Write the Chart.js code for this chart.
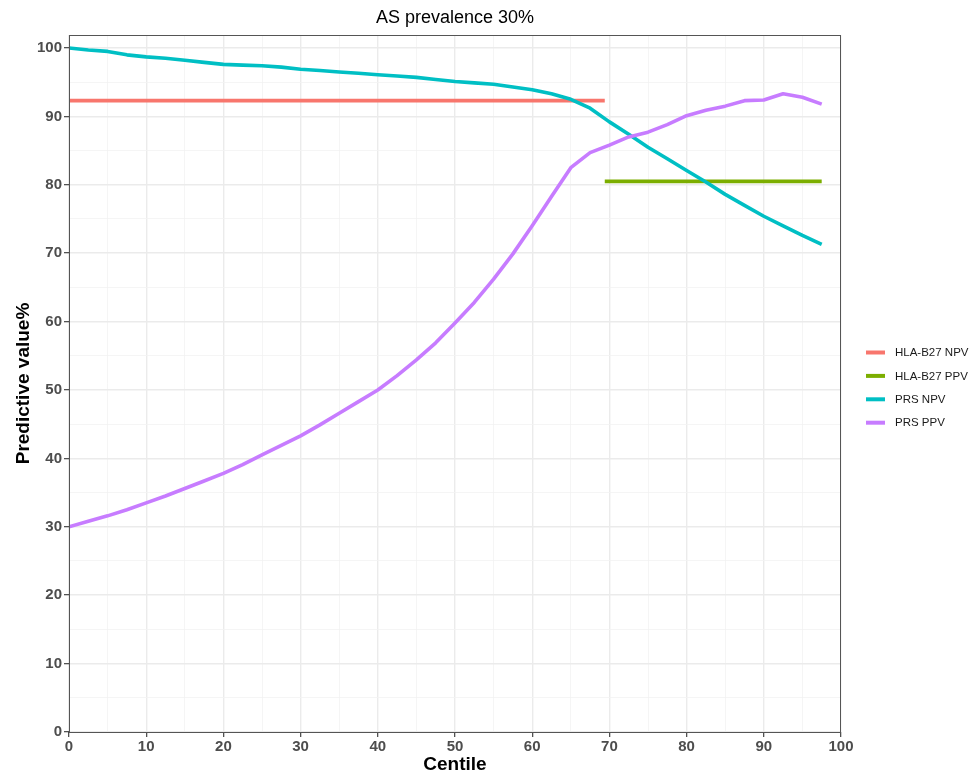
<!DOCTYPE html>
<html>
<head>
<meta charset="utf-8">
<title>AS prevalence 30%</title>
<script src="https://cdn.jsdelivr.net/npm/chart.js@4/dist/chart.umd.min.js"></script>
<style>
  html, body { margin: 0; padding: 0; background: #fff; }
  #wrap { width: 970px; height: 773px; }
</style>
</head>
<body>
<div id="wrap"><canvas id="predChart" width="970" height="773"></canvas></div>
<script>
// centiles where the PRS curves were evaluated
const centiles = [0, 2.5, 5, 7.5, 10, 12.5, 15, 17.5, 20, 22.5, 25, 27.5, 30, 32.5, 35, 37.5,
  40, 42.5, 45, 47.5, 50, 52.5, 55, 57.5, 60, 62.5, 65, 67.5, 70, 72.5, 75, 77.5,
  80, 82.5, 85, 87.5, 90, 92.5, 95, 97.5];

const prsNpv = [100.0, 99.7, 99.5, 99.0, 98.7, 98.5, 98.2, 97.9, 97.6, 97.5, 97.4, 97.2, 96.9, 96.7, 96.5, 96.3,
  96.1, 95.9, 95.7, 95.4, 95.1, 94.9, 94.7, 94.3, 93.9, 93.3, 92.5, 91.2, 89.2, 87.4, 85.5, 83.8,
  82.1, 80.4, 78.6, 77.0, 75.4, 74.0, 72.6, 71.3];

const prsPpv = [30.0, 30.8, 31.6, 32.5, 33.5, 34.5, 35.6, 36.7, 37.8, 39.1, 40.5, 41.9, 43.3, 44.9, 46.6, 48.3,
  50.0, 52.1, 54.4, 56.9, 59.8, 62.8, 66.2, 69.9, 74.0, 78.3, 82.5, 84.7, 85.8, 87.0, 87.7, 88.8,
  90.1, 90.9, 91.5, 92.3, 92.4, 93.3, 92.8, 91.8];

// HLA-B27 is a single value, drawn flat over its centile range
const hlaNpvX = [0, 69.4];
const hlaNpvY = [92.3, 92.3];
const hlaPpvX = [69.4, 97.5];
const hlaPpvY = [80.5, 80.5];

const seriesNames = ["HLA-B27 NPV", "HLA-B27 PPV", "PRS NPV", "PRS PPV"];
const seriesColors = ["#F8766D", "#7CAE00", "#00BFC4", "#C77CFF"];

const tickValues = [0, 5, 10, 15, 20, 25, 30, 35, 40, 45, 50, 55, 60, 65, 70, 75, 80, 85, 90, 95, 100];

const FONT = "'Liberation Sans', Arial, Helvetica, sans-serif";

function toPoints(xs, ys) {
  return xs.map((x, i) => ({ x: x, y: ys[i] }));
}

const seriesPoints = [
  toPoints(hlaNpvX, hlaNpvY),
  toPoints(hlaPpvX, hlaPpvY),
  toPoints(centiles, prsNpv),
  toPoints(centiles, prsPpv)
];

const datasets = seriesNames.map((name, i) => ({
  label: name,
  data: seriesPoints[i],
  borderColor: seriesColors[i],
  backgroundColor: seriesColors[i],
  borderWidth: 3.6,
  borderJoinStyle: "round",
  pointRadius: 0,
  pointHoverRadius: 0,
  tension: 0,
  fill: false,
  order: seriesNames.length - i
}));

const isMajor = v => Math.round(v) % 10 === 0;

function axisGrid() {
  return {
    color: c => isMajor(c.tick.value) ? "#EBEBEB" : "#F3F3F3",
    lineWidth: c => isMajor(c.tick.value) ? 1.4 : 0.8,
    drawTicks: true,
    tickLength: 5,
    tickColor: c => isMajor(c.tick.value) ? "#333333" : "rgba(0,0,0,0)",
    tickWidth: 1.1
  };
}

// panel border + legend drawn by hand so the right margin stays fixed
const panelPlugin = {
  id: "panel",
  afterDatasetsDraw(chart) {
    const { ctx, chartArea } = chart;
    ctx.save();
    ctx.strokeStyle = "#555555";
    ctx.lineWidth = 1;
    ctx.strokeRect(chartArea.left + 0.5, chartArea.top + 0.5,
      chartArea.right - chartArea.left - 1, chartArea.bottom - chartArea.top);
    ctx.restore();
  },
  afterDraw(chart) {
    const { ctx, chartArea } = chart;
    const x0 = chartArea.right + 25;
    const y0 = 352.5;
    ctx.save();
    ctx.font = "11.5px " + FONT;
    ctx.textBaseline = "middle";
    ctx.textAlign = "left";
    chart.data.datasets.forEach((ds, i) => {
      const y = y0 + i * 23.4;
      ctx.strokeStyle = ds.borderColor;
      ctx.lineWidth = 4;
      ctx.beginPath();
      ctx.moveTo(x0, y);
      ctx.lineTo(x0 + 19, y);
      ctx.stroke();
      ctx.fillStyle = "#1A1A1A";
      ctx.fillText(ds.label, x0 + 29, y + 0.5);
    });
    ctx.restore();
  }
};

const chart = new Chart(document.getElementById("predChart").getContext("2d"), {
  type: "line",
  data: { datasets: datasets },
  plugins: [panelPlugin],
  options: {
    responsive: false,
    devicePixelRatio: 1,
    animation: false,
    layout: { padding: { left: 0, right: 129, top: 0, bottom: 0 } },
    plugins: {
      legend: { display: false },
      tooltip: { enabled: false },
      title: {
        display: true,
        text: "AS prevalence 30%",
        fullSize: false,
        color: "#000000",
        font: { family: FONT, size: 18, weight: "normal", lineHeight: 1.2 },
        padding: { top: 7, bottom: 6.4 }
      }
    },
    scales: {
      x: {
        type: "linear",
        min: 0,
        max: 100,
        afterBuildTicks: s => { s.ticks = tickValues.map(v => ({ value: v })); },
        afterFit: s => { s.height = 41; },
        grid: axisGrid(),
        border: { display: false },
        ticks: {
          autoSkip: false,
          maxRotation: 0,
          padding: 1,
          color: "#4D4D4D",
          font: { family: FONT, size: 15, weight: "bold" },
          callback: v => isMajor(v) ? String(v) : ""
        },
        title: {
          display: true,
          text: "Centile",
          color: "#000000",
          font: { family: FONT, size: 19, weight: "bold", lineHeight: "16px" },
          padding: { top: 0, bottom: 0 }
        }
      },
      y: {
        type: "linear",
        min: 0,
        max: 101.9,
        afterBuildTicks: s => { s.ticks = tickValues.map(v => ({ value: v })); },
        afterFit: s => { s.width = 69; },
        grid: axisGrid(),
        border: { display: false },
        ticks: {
          autoSkip: false,
          padding: 2,
          color: "#4D4D4D",
          font: { family: FONT, size: 15, weight: "bold" },
          callback: v => isMajor(v) ? String(v) : ""
        },
        title: {
          display: true,
          text: "Predictive value%",
          color: "#000000",
          font: { family: FONT, size: 19, weight: "bold", lineHeight: "16px" },
          padding: { top: 16, bottom: 0 }
        }
      }
    }
  }
});
</script>
</body>
</html>
